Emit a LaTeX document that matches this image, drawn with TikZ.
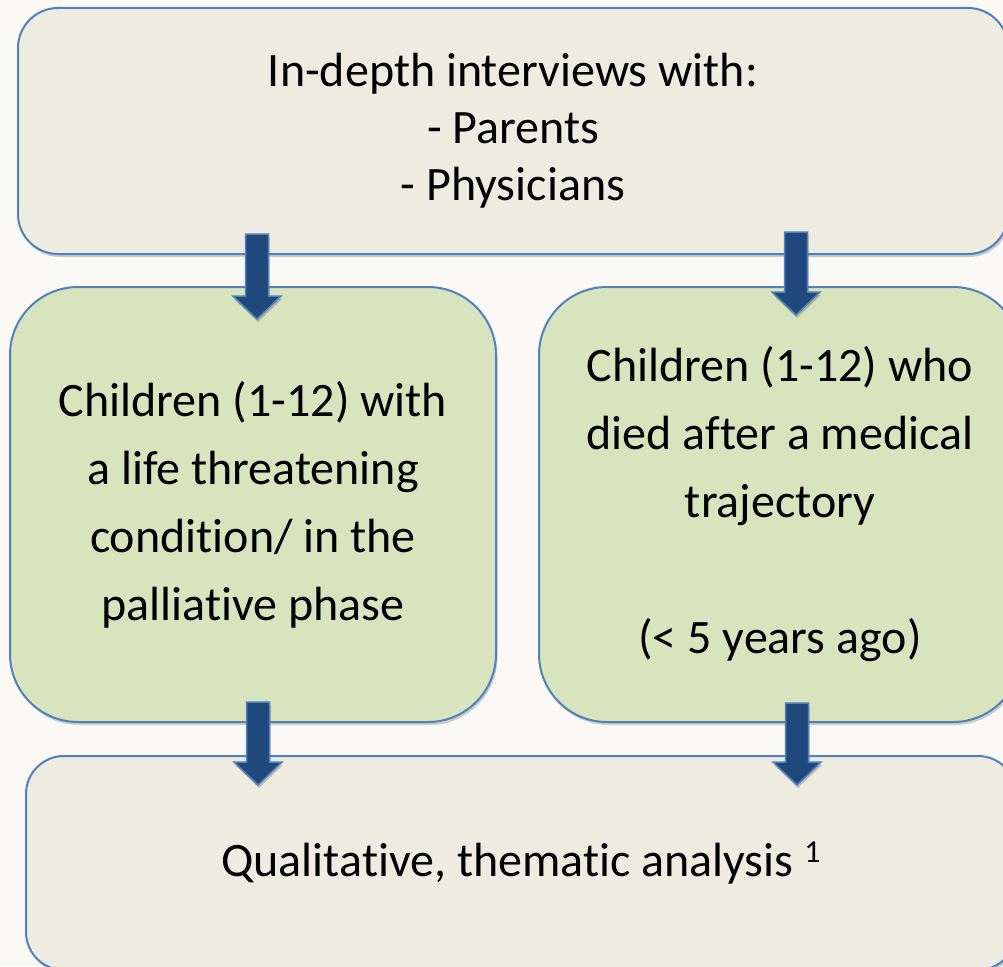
\documentclass[tikz,border=0pt]{standalone}
\usepackage{fontspec}
\setmainfont{Carlito}[Ligatures={CommonOff,ContextualOff},RawFeature={-liga;-clig;-dlig;-calt}]
\usetikzlibrary{calc,shadows}
\definecolor{bgwhite}{RGB}{250,249,245}
\definecolor{beigefill}{HTML}{EEECE1}
\definecolor{greenfill}{HTML}{D7E4BD}
\definecolor{edgeblue}{HTML}{4F81BD}
\definecolor{arrowdark}{HTML}{1F497D}
\tikzset{
  roundbox/.style={draw=edgeblue, line width=2pt, rounded corners=#1, align=center,
    inner sep=0pt, text=black,
    drop shadow={fill=black, opacity=0.18, shadow xshift=1.5pt, shadow yshift=-3pt}},
  beigebox/.style={roundbox=#1, fill=beigefill},
  greenbox/.style={roundbox=#1, fill=greenfill},
  blockarrow/.style={draw=edgeblue, fill=arrowdark, line width=1.5pt, line join=miter,
    drop shadow={fill=black, opacity=0.2, shadow xshift=1pt, shadow yshift=-3pt},
    to path={let \p1=(\tikztostart), \p2=(\tikztotarget) in
      (\x1-11.5pt,\y1) -- (\x1+11.5pt,\y1) -- (\x1+11.5pt,\y2+23pt) -- (\x1+24pt,\y2+23pt)
      -- (\x2,\y2) -- (\x1-24pt,\y2+23pt) -- (\x1-11.5pt,\y2+23pt) -- cycle}},
  toptext/.style={font=\fontsize{48}{57}\selectfont},
  boxtext/.style={font=\fontsize{48}{68}\selectfont}
}
\newcommand{\supone}{\raisebox{14pt}{\fontsize{32}{32}\selectfont 1}}
\begin{document}
\begin{tikzpicture}[x=1pt,y=-1pt]
\useasboundingbox (0,0) rectangle (1003,966);
\fill[bgwhite] (0,0) rectangle (1003,966);

\node[beigebox=40pt, toptext, minimum width=990pt, minimum height=246pt] (top) at (513,131)
  {In-depth interviews with:\\- Parents\\- Physicians};
\node[greenbox=68pt, boxtext, minimum width=486pt, minimum height=435pt] (left) at (253,504.5)
  {Children (1-12) with\\a life threatening\\condition/ in the\\palliative phase};
\node[greenbox=68pt, boxtext, minimum width=482pt, minimum height=435pt] (right) at (780,504.5)
  {Children (1-12) who\\died after a medical\\trajectory\\[68pt](< 5 years ago)};
\node[beigebox=38pt, boxtext, minimum width=990pt, minimum height=214pt] (bottom) at (521,863)
  {Qualitative, thematic analysis \supone};

\coordinate (s1) at (257,234); \coordinate (t1) at (257,319);
\coordinate (s2) at (796,232); \coordinate (t2) at (796,315);
\coordinate (s3) at (258,702); \coordinate (t3) at (258,785);
\coordinate (s4) at (797,703); \coordinate (t4) at (797,785);
\draw[blockarrow] (s1) to (t1);
\draw[blockarrow] (s2) to (t2);
\draw[blockarrow] (s3) to (t3);
\draw[blockarrow] (s4) to (t4);
\end{tikzpicture}
\end{document}
